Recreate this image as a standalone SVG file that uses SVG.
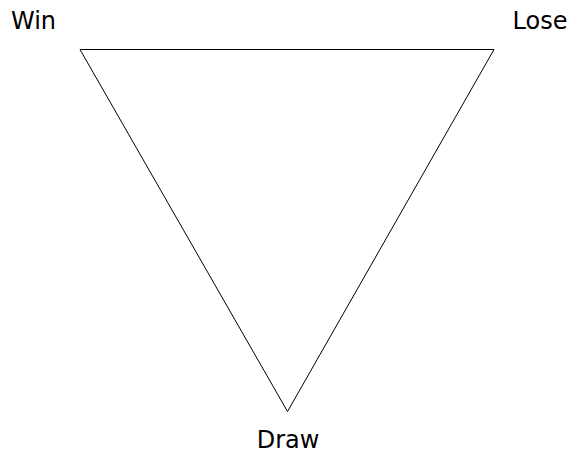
<svg xmlns="http://www.w3.org/2000/svg" width="572" height="454" viewBox="0 0 572 454">
<style>
text{font-family:"DejaVu Sans","Liberation Sans",sans-serif;font-size:24px;fill:#000}
.edge{fill:none;stroke:#000;stroke-width:1}
</style>
<rect width="572" height="454" fill="#fff"/>
<g id="connectors">
<path class="edge" d="M80,49.5 L494,49.5 L287.5,411.5 Z"/>
</g>
<g id="win"><text x="33.5" y="29" text-anchor="middle">Win</text></g>
<g id="lose"><text x="540" y="29" text-anchor="middle">Lose</text></g>
<g id="draw"><text x="288" y="448" text-anchor="middle">Draw</text></g>
</svg>
